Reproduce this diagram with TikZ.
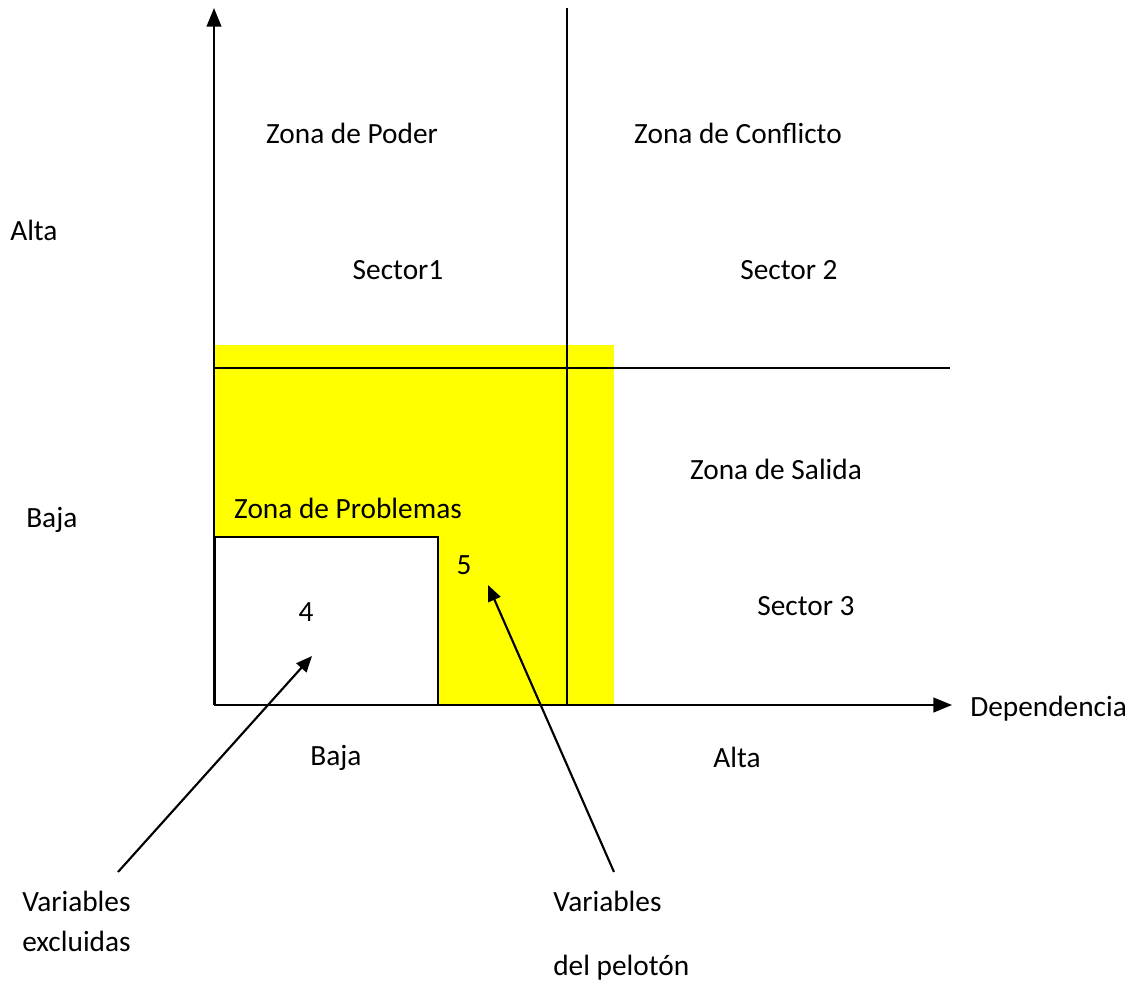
\documentclass[tikz,border=0pt]{standalone}
\usepackage{fontspec}
\setmainfont{Carlito}
\usetikzlibrary{arrows.meta}
\definecolor{zoneyellow}{RGB}{255,255,0}
\begin{document}
\begin{tikzpicture}[x=0.75pt,y=-0.75pt,
  lbl/.style={font=\fontsize{22}{26}\selectfont, inner sep=0pt},
  axis/.style={line width=1.6pt},
  thin/.style={line width=1.2pt},
  arr/.style={line width=1.6pt,-{Triangle[length=12pt,width=10pt]}}]
\useasboundingbox (0,0) rectangle (1138,984);
\fill[zoneyellow] (215,345) rectangle (614,705);
\draw[fill=white, line width=1.4pt] (215,537) rectangle (438,705);
% lines
\coordinate (vtop) at (567,8);
\coordinate (vbot) at (567,705);
\coordinate (hl) at (215,368);
\coordinate (hr) at (950,368);
\draw[thin] (vtop) -- (vbot);
\draw[thin] (hl) -- (hr);
% axes
\coordinate (o) at (214,705);
\coordinate (ytip) at (214,8);
\coordinate (xtip) at (952,705);
\draw[axis,-{Triangle[length=14pt,width=11pt]}] (o) -- (ytip);
\draw[axis,-{Triangle[length=14pt,width=11pt]}] (o) -- (xtip);
% labels
\node[lbl] (poder) at (352,133) {Zona de Poder};
\node[lbl] (conflicto) at (738,133) {Zona de Conflicto};
\node[lbl, anchor=west] (altay) at (10,230) {Alta};
\node[lbl] (s1) at (398,270) {Sector1};
\node[lbl] (s2) at (789,270) {Sector 2};
\node[lbl] (salida) at (776,469) {Zona de Salida};
\node[lbl, anchor=west] (bajay) at (26,520) {Baja};
\node[lbl] (problemas) at (348,508) {Zona de Problemas};
\node[lbl] (n5) at (464,565) {5};
\node[lbl] (n4) at (306,612) {4};
\node[lbl] (s3) at (806,606) {Sector 3};
\node[lbl, anchor=west] (dep) at (970,709) {Dependencia};
\node[lbl] (bajax) at (336,758) {Baja};
\node[lbl] (altax) at (737,757) {Alta};
\node[lbl, anchor=west] (ve1) at (22,901) {Variables};
\node[lbl, anchor=west] (ve2) at (22,941) {excluidas};
\node[lbl, anchor=west] (vp1) at (553,901) {Variables};
\node[lbl, anchor=west] (vp2) at (553,968) {del pelotón};
% arrows
\coordinate (a1s) at (118,872);
\coordinate (a1e) at (312,656);
\coordinate (a2s) at (614,872);
\coordinate (a2e) at (488,585);
\draw[arr] (a1s) -- (a1e);
\draw[arr] (a2s) -- (a2e);
\end{tikzpicture}
\end{document}
